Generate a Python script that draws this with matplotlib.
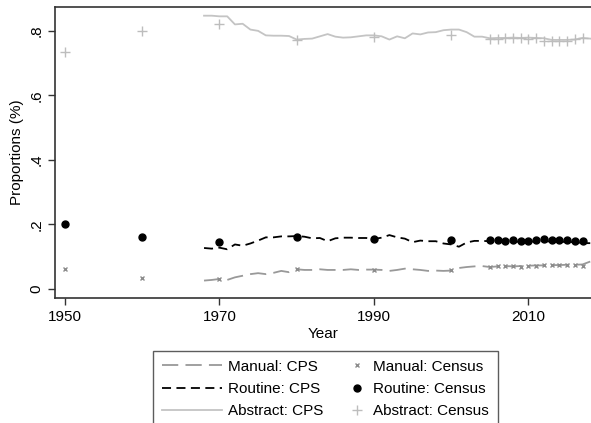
import matplotlib
matplotlib.use("Agg")
import matplotlib.pyplot as plt
from matplotlib.legend_handler import HandlerLine2D

plt.rcParams['font.family'] = ['Liberation Sans', 'DejaVu Sans']

# CPS series, annual 1968-2018
cps_years = list(range(1968, 2019))
manual_cps = [0.026, 0.028, 0.031, 0.028, 0.036, 0.041, 0.046, 0.049, 0.046, 0.050,
              0.056, 0.052, 0.061, 0.059, 0.059, 0.061, 0.059, 0.059, 0.059, 0.061,
              0.059, 0.060, 0.060, 0.059, 0.056, 0.059, 0.063, 0.061, 0.059, 0.056,
              0.057, 0.056, 0.057, 0.065, 0.068, 0.070, 0.071, 0.068, 0.070, 0.071,
              0.070, 0.071, 0.072, 0.073, 0.073, 0.074, 0.074, 0.075, 0.075, 0.076,
              0.085]
routine_cps = [0.127, 0.125, 0.128, 0.123, 0.138, 0.134, 0.141, 0.150, 0.160, 0.160,
               0.163, 0.163, 0.164, 0.162, 0.157, 0.158, 0.148, 0.157, 0.159, 0.159,
               0.158, 0.158, 0.155, 0.159, 0.167, 0.160, 0.156, 0.145, 0.150, 0.148,
               0.148, 0.141, 0.138, 0.131, 0.144, 0.149, 0.149, 0.148, 0.148, 0.147,
               0.147, 0.146, 0.147, 0.147, 0.148, 0.147, 0.146, 0.146, 0.145, 0.142,
               0.142]
abstract_cps = [0.847, 0.847, 0.845, 0.845, 0.820, 0.822, 0.804, 0.800, 0.786, 0.785,
                0.785, 0.784, 0.773, 0.775, 0.776, 0.783, 0.790, 0.782, 0.779, 0.780,
                0.783, 0.786, 0.786, 0.783, 0.773, 0.783, 0.777, 0.792, 0.789, 0.795,
                0.796, 0.802, 0.804, 0.804, 0.796, 0.782, 0.782, 0.777, 0.778, 0.778,
                0.779, 0.778, 0.779, 0.778, 0.777, 0.772, 0.772, 0.772, 0.773, 0.778,
                0.776]

# Census / ACS points
census_years = [1950, 1960, 1970, 1980, 1990, 2000] + list(range(2005, 2018))
manual_census = [0.061, 0.033, 0.032, 0.061, 0.059, 0.059,
                 0.068, 0.070, 0.070, 0.070, 0.068, 0.071, 0.071, 0.073,
                 0.073, 0.074, 0.074, 0.073, 0.072]
routine_census = [0.200, 0.162, 0.145, 0.162, 0.156, 0.152,
                  0.151, 0.152, 0.150, 0.151, 0.149, 0.150, 0.151, 0.154,
                  0.152, 0.151, 0.151, 0.150, 0.148]
abstract_census = [0.735, 0.800, 0.820, 0.773, 0.782, 0.786,
                   0.776, 0.775, 0.778, 0.777, 0.779, 0.776, 0.778, 0.769,
                   0.769, 0.769, 0.770, 0.776, 0.778]


class RightMarker(HandlerLine2D):
    # put the legend marker next to the text instead of mid-handle
    def get_xdata(self, legend, xdescent, ydescent, width, height, fontsize):
        c = -xdescent + width - 0.65 * fontsize
        return [c - 1, c + 1], [c]


fig = plt.figure(figsize=(5.91, 4.23), dpi=100)
ax = fig.add_axes([0.093, 0.2955, 0.907, 0.688])

l1, = ax.plot(cps_years, manual_cps, color='#999999', lw=1.3, dashes=(9, 4), label='Manual: CPS')
l2, = ax.plot(cps_years, routine_cps, color='black', lw=1.3, dashes=(5, 3), label='Routine: CPS')
l3, = ax.plot(cps_years, abstract_cps, color='#c4c4c4', lw=1.3, label='Abstract: CPS')
p1, = ax.plot(census_years, manual_census, ls='none', marker='x', ms=3.5, mew=1,
              color='#8c8c8c', label='Manual: Census')
p2, = ax.plot(census_years, routine_census, ls='none', marker='o', ms=5,
              color='black', label='Routine: Census')
p3, = ax.plot(census_years, abstract_census, ls='none', marker='+', ms=7, mew=1,
              color='#bdbdbd', label='Abstract: Census')

ax.set_xlim(1948.7, 2018.1)
ax.set_ylim(-0.028, 0.874)
ax.set_xticks([1950, 1970, 1990, 2010])
ax.set_yticks([0, 0.2, 0.4, 0.6, 0.8])
ax.set_yticklabels(['0', '.2', '.4', '.6', '.8'], rotation=90, va='center')
ax.tick_params(labelsize=11, length=5, width=1, color='#333333')
for side in ['left', 'bottom', 'top']:
    ax.spines[side].set_color('#333333')
    ax.spines[side].set_linewidth(1.2)
ax.spines['right'].set_visible(False)

ax.set_xlabel('Year', fontsize=11, labelpad=2)
ax.set_ylabel('Proportions (%)', fontsize=11, labelpad=4)

handles = [l1, l2, l3, p1, p2, p3]
hmap = {p: RightMarker() for p in (p1, p2, p3)}
leg = fig.legend(handles, [h.get_label() for h in handles],
                 loc='upper left', bbox_to_anchor=(0.259, 0.171), ncol=2,
                 fontsize=11, frameon=True, fancybox=False, edgecolor='#333333',
                 handlelength=3.9, columnspacing=-1.05, labelspacing=0.53,
                 borderpad=0.6, handletextpad=0.4, borderaxespad=0,
                 handler_map=hmap)
leg.get_frame().set_linewidth(1)

fig.savefig('out.png', dpi=100)
